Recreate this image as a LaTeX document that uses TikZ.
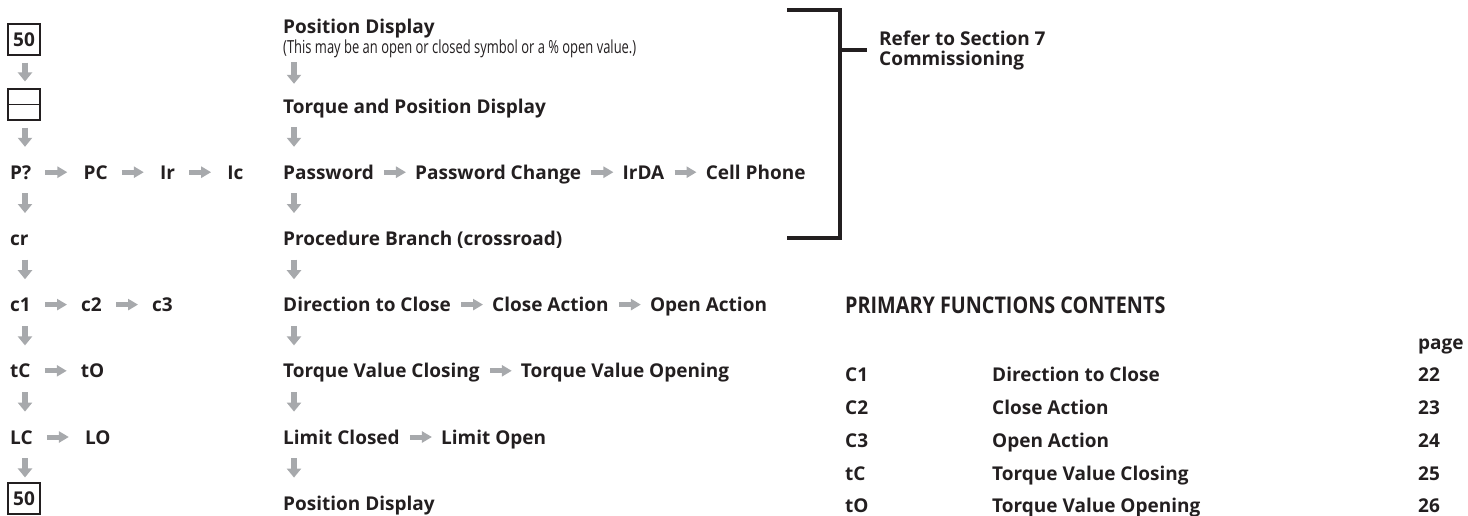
\documentclass[tikz,border=0pt]{standalone}
\usepackage{fontspec}
\setmainfont{Open Sans}
\newfontfamily\condfont[FakeStretch=0.72]{Open Sans}
\newfontfamily\titlefont[FakeStretch=0.86]{Open Sans}
\usetikzlibrary{arrows.meta,positioning}
\definecolor{ink}{HTML}{231F20}
\definecolor{arr}{HTML}{A7A9AC}
\begin{document}
\begin{tikzpicture}[x=1pt,y=-1pt,
  txt/.style={inner sep=0pt, anchor=base west, text height=14pt, text depth=0pt,
    font=\fontsize{19}{22}\selectfont\bfseries, text=ink},
  sub/.style={inner sep=0pt, anchor=base west, text height=13pt, text depth=0pt,
    font=\condfont\fontsize{18}{20}\selectfont, text=ink},
  disp/.style={draw=ink, line width=1.1pt, minimum width=32pt, minimum height=31pt,
    inner sep=0pt, font=\fontsize{19}{22}\selectfont\bfseries, text=ink},
  darr/.style={draw=arr, line width=5.5pt, -{Triangle[length=9pt,width=14pt]}},
  harr/.style={draw=arr, line width=5pt, -{Triangle[length=10pt,width=11pt]}},
  hl/.style={harr, shorten <=14pt, shorten >=16pt},
  hr/.style={harr, shorten <=10pt, shorten >=9pt},
  brk/.style={draw=ink, line width=3.5pt},
  ttl/.style={inner sep=0pt, anchor=base west, font=\titlefont\fontsize{23}{26}\selectfont\bfseries, text=ink},
  tab/.style={inner sep=0pt, anchor=base west, font=\fontsize{19}{22}\selectfont\bfseries, text=ink}
]
\useasboundingbox (0,0) rectangle (1468,515);
% column coordinates
\coordinate (cL) at (25,0);
\coordinate (cR) at (294,0);
% ---------- left column ----------
\node[disp] (L0) at (24,39.5) {50};
\node[disp] (L1) at (24,104.5) {};
\draw[draw=ink, line width=1.1pt] (L1.west) -- (L1.east);
\node[txt] (L2) at (10,179.2) {P?};
\node[txt, right=52pt of L2] (L2b) {PC};
\node[txt, right=52pt of L2b] (L2c) {Ir};
\node[txt, right=52pt of L2c] (L2d) {Ic};
\node[txt] (L3) at (10,245.4) {cr};
\node[txt] (L4) at (10,311.6) {c1};
\node[txt, right=50pt of L4] (L4b) {c2};
\node[txt, right=50pt of L4b] (L4c) {c3};
\node[txt] (L5) at (10,377.8) {tC};
\node[txt, right=50pt of L5] (L5b) {tO};
\node[txt] (L6) at (10,444) {LC};
\node[txt, right=52pt of L6] (L6b) {LO};
\node[disp] (L7) at (24,498.5) {50};
% ---------- right column ----------
\node[txt] (R0) at (283,33) {Position Display};
\node[sub] (R0s) at (283,53) {(This may be an open or closed symbol or a \% open value.)};
\node[txt] (R1) at (283,113) {Torque and Position Display};
\node[txt] (R2) at (283,179.2) {Password};
\node[txt, right=41pt of R2] (R2b) {Password Change};
\node[txt, right=41pt of R2b] (R2c) {IrDA};
\node[txt, right=41pt of R2c] (R2d) {Cell Phone};
\node[txt] (R3) at (283,245.4) {Procedure Branch (crossroad)};
\node[txt] (R4) at (283,311.6) {Direction to Close};
\node[txt, right=41pt of R4] (R4b) {Close Action};
\node[txt, right=41pt of R4b] (R4c) {Open Action};
\node[txt] (R5) at (283,377.8) {Torque Value Closing};
\node[txt, right=41pt of R5] (R5b) {Torque Value Opening};
\node[txt] (R6) at (283,444) {Limit Closed};
\node[txt, right=41pt of R6] (R6b) {Limit Open};
\node[txt] (R7) at (283,510) {Position Display};
% ---------- vertical arrows ----------
\draw[darr, shorten <=7pt, shorten >=7pt] (L0.south -| cL) -- (L1.north -| cL);
\draw[darr, shorten <=7pt, shorten >=18.2pt] (L1.south -| cL) -- (L2.north -| cL);
\foreach \a/\b in {L2/L3,L3/L4,L4/L5,L5/L6}
  \draw[darr, shorten <=14pt, shorten >=18.2pt] (\a.south -| cL) -- (\b.north -| cL);
\draw[darr, shorten <=14pt, shorten >=5pt] (L6.south -| cL) -- (L7.north -| cL);
\draw[darr, shorten <=9pt, shorten >=15pt] (R0s.south -| cR) -- (R1.north -| cR);
\foreach \a/\b in {R1/R2,R2/R3,R3/R4,R4/R5,R5/R6,R6/R7}
  \draw[darr, shorten <=14pt, shorten >=18.2pt] (\a.south -| cR) -- (\b.north -| cR);
% ---------- horizontal arrows ----------
\foreach \a/\b in {L2/L2b,L2b/L2c,L2c/L2d,L6/L6b}
  \draw[hl] (\a.east) -- (\b.west);
\foreach \a/\b in {L4/L4b,L4b/L4c,L5/L5b}
  \draw[harr, shorten <=14pt, shorten >=14pt] (\a.east) -- (\b.west);
\foreach \a/\b in {R2/R2b,R2b/R2c,R2c/R2d,R4/R4b,R4b/R4c,R5/R5b,R6/R6b}
  \draw[hr] (\a.east) -- (\b.west);
% ---------- bracket ----------
\node[inner sep=0pt, anchor=west, align=left, text=ink,
  font=\fontsize{19}{20}\selectfont\bfseries] (refer) at (879,51)
  {Refer to Section 7\\Commissioning};
\coordinate (bt) at (787,10);
\coordinate (bm) at (840,50);
\coordinate (bb) at (787,238);
\draw[brk] (bt) -- (bt -| bm) -- (bb -| bm) -- (bb);
\draw[brk, shorten >=12pt] (bm) -- (refer.west |- bm);
% ---------- table ----------
\node[ttl] (T0) at (845,313) {PRIMARY FUNCTIONS CONTENTS};
\node[tab] (Tp) at (1418,349) {page};
\foreach \c/\n/\p/\y/\k in {C1/Direction to Close/22/381/1,C2/Close Action/23/414/2,
    C3/Open Action/24/447/3,tC/Torque Value Closing/25/480/4,tO/Torque Value Opening/26/512/5}{
  \node[tab] (Tc\k) at (845,\y) {\c};
  \node[tab] (Tn\k) at (992,\y) {\n};
  \node[tab] (Tg\k) at (1418,\y) {\p};
}
\end{tikzpicture}
\end{document}
